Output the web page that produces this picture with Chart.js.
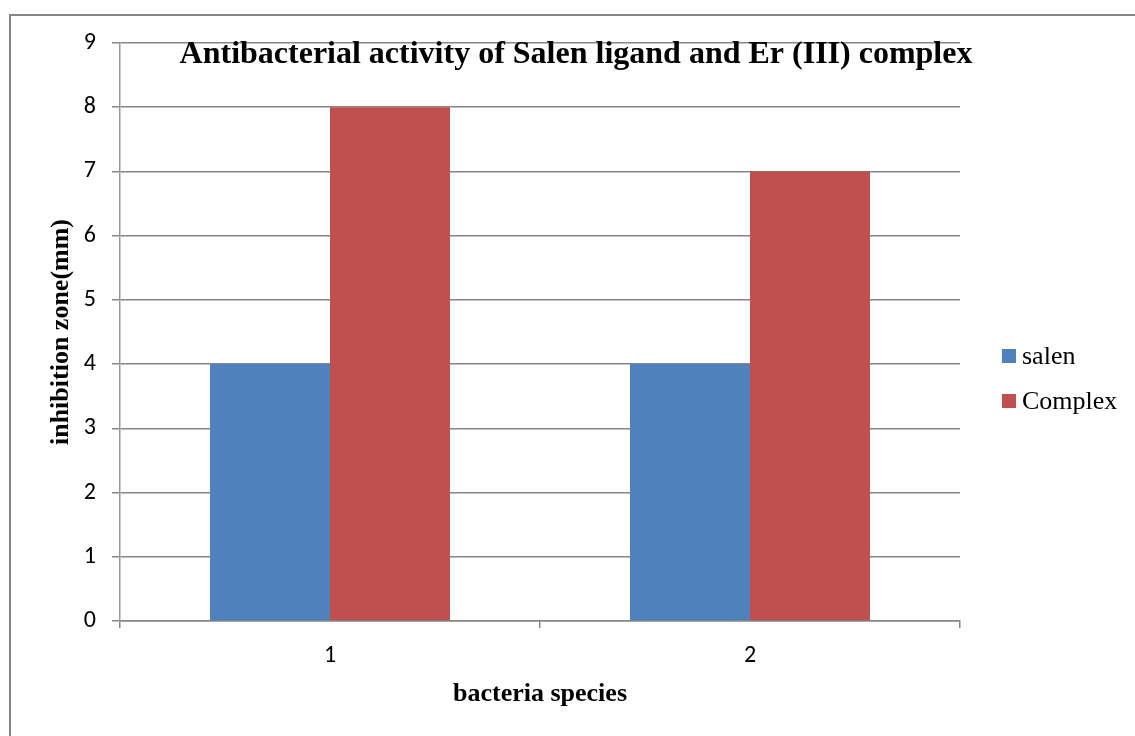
<!DOCTYPE html>
<html>
<head>
<meta charset="utf-8">
<title>Antibacterial activity of Salen ligand and Er (III) complex</title>
<script src="https://cdn.jsdelivr.net/npm/chart.js@4.4.1/dist/chart.umd.min.js"></script>
<style>
  html, body { margin: 0; padding: 0; background: #ffffff; }
  canvas { display: block; }
</style>
</head>
<body>
<canvas id="chart" width="1135" height="736"></canvas>
<script>
// Bacteria species on the x axis
const categories = ['1', '2'];
// Inhibition zone (mm) per series
const salenValues = [4, 4];
const complexValues = [8, 7];
const seriesNames = ['salen', 'Complex'];
// Value axis range
const yMin = 0;
const yMax = 9;
const yStep = 1;

const chartTitle = 'Antibacterial activity of Salen ligand and Er (III) complex';
const xTitle = 'bacteria species';
const yTitle = 'inhibition zone(mm)';

const BLUE = '#4F81BD';
const RED = '#C0504D';
const GRID = '#868686';
const AXIS = '#9a9a9a';
const SERIF = '"Times New Roman", "Liberation Serif", serif';
const SANS = 'Carlito, Calibri, Lato, "Open Sans", sans-serif';

// Outer frame and white background
const framePlugin = {
  id: 'frame',
  beforeDraw(chart) {
    const ctx = chart.ctx;
    ctx.save();
    ctx.fillStyle = '#ffffff';
    ctx.fillRect(0, 0, chart.width, chart.height);
    ctx.strokeStyle = GRID;
    ctx.lineWidth = 2;
    ctx.beginPath();
    ctx.moveTo(10, chart.height);
    ctx.lineTo(10, 15);
    ctx.lineTo(chart.width, 15);
    ctx.stroke();
    ctx.restore();
  }
};

// Chart heading drawn over the top gridline
const headingPlugin = {
  id: 'heading',
  afterDraw(chart) {
    const ctx = chart.ctx;
    ctx.save();
    ctx.font = 'bold 32px ' + SERIF;
    ctx.fillStyle = '#000000';
    ctx.textAlign = 'center';
    ctx.textBaseline = 'alphabetic';
    ctx.fillText(chartTitle, 576, 63);
    ctx.restore();
  }
};

// Legend on the right side
const sideLegendPlugin = {
  id: 'sideLegend',
  afterDraw(chart) {
    const ctx = chart.ctx;
    ctx.save();
    ctx.font = '26px ' + SERIF;
    ctx.textAlign = 'left';
    ctx.textBaseline = 'alphabetic';
    const x = chart.chartArea.right + 42;
    const y0 = 349;
    const gap = 45;
    chart.data.datasets.forEach((ds, i) => {
      const y = y0 + i * gap;
      ctx.fillStyle = ds.backgroundColor;
      ctx.fillRect(x, y, 14, 14);
      ctx.fillStyle = '#000000';
      ctx.fillText(ds.label, x + 20, y + 15);
    });
    ctx.restore();
  }
};

new Chart(document.getElementById('chart'), {
  type: 'bar',
  data: {
    labels: categories,
    datasets: [
      { label: seriesNames[0], data: salenValues, backgroundColor: BLUE, borderWidth: 0 },
      { label: seriesNames[1], data: complexValues, backgroundColor: RED, borderWidth: 0 }
    ]
  },
  options: {
    responsive: false,
    animation: false,
    devicePixelRatio: 1,
    datasets: { bar: { categoryPercentage: 0.5714, barPercentage: 1 } },
    layout: { padding: { top: 43, right: 175, left: 0, bottom: 0 } },
    plugins: {
      legend: { display: false },
      title: { display: false },
      tooltip: { enabled: false }
    },
    scales: {
      x: {
        grid: { offset: true, drawOnChartArea: false, drawTicks: true, tickLength: 7, color: GRID, lineWidth: 1.5 },
        border: { display: true, color: GRID, width: 1.5 },
        ticks: { padding: 14, color: '#000000', font: { family: SANS, size: 24 } },
        title: {
          display: true, text: xTitle, color: '#000000',
          font: { family: SERIF, size: 26, weight: 'bold' },
          padding: { top: 0, bottom: 26 }
        },
        afterFit(scale) { scale.height = 115; }
      },
      y: {
        min: yMin,
        max: yMax,
        ticks: { stepSize: yStep, padding: 16, color: '#000000', font: { family: SANS, size: 24 } },
        grid: { color: GRID, lineWidth: 1.5, tickLength: 8 },
        border: { display: true, color: AXIS, width: 1.5 },
        title: {
          display: true, text: yTitle, color: '#000000',
          font: { family: SERIF, size: 26, weight: 'bold' },
          padding: { top: 46, bottom: 0 }
        },
        afterFit(scale) { scale.width = 120; }
      }
    }
  },
  plugins: [framePlugin, headingPlugin, sideLegendPlugin]
});
</script>
</body>
</html>
